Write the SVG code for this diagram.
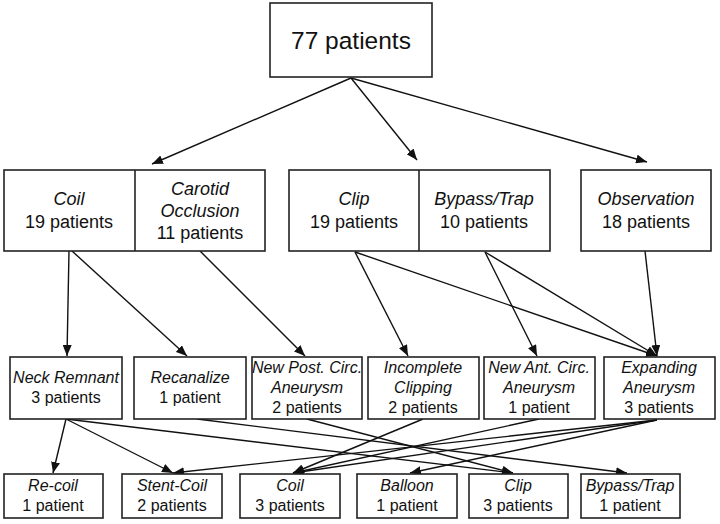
<svg xmlns="http://www.w3.org/2000/svg" width="720" height="524" viewBox="0 0 720 524">
<defs>
<marker id="ah" markerUnits="userSpaceOnUse" markerWidth="11" markerHeight="9" refX="11" refY="4.5" orient="auto">
<path d="M0,0 L11,4.5 L0,9 z" fill="#111"/>
</marker>
<style>
rect{fill:#fff;stroke:#222;stroke-width:1.6}
.dv{stroke:#222;stroke-width:1.6}
text{font-family:"Liberation Sans",Arial,sans-serif;fill:#111;text-anchor:middle}
.i{font-style:italic}
.f18{font-size:18px}
.f16{font-size:16px}
#connectors path{fill:none;stroke:#111;stroke-width:1.4;marker-end:url(#ah)}
</style>
</defs>
<rect x="0" y="0" width="720" height="524" style="fill:#fff;stroke:none"/>
<g id="connectors">
<path d="M351,78 L152,164"/>
<path d="M351,78 L417,160"/>
<path d="M351,78 L647,162"/>
<path d="M69,251 L67,356"/>
<path d="M72,251 L187,356"/>
<path d="M200,251 L305,356"/>
<path d="M355,252 L408,356"/>
<path d="M355,252 L657,356"/>
<path d="M485,252 L537,356"/>
<path d="M485,252 L657,356"/>
<path d="M645,251 L657,356"/>
<path d="M66,419 L53,473"/>
<path d="M66,419 L173,473"/>
<path d="M66,419 L513,473"/>
<path d="M197,419 L627,473"/>
<path d="M307,419 L513,473"/>
<path d="M423,419 L293,473"/>
<path d="M539,419 L293,473"/>
<path d="M657,420 L173,473"/>
<path d="M657,420 L293,473"/>
<path d="M657,420 L410,473"/>
</g>
<g id="n-total">
<rect x="270" y="3" width="162" height="74"/>
<text x="351" y="49" style="font-size:24.5px">77 patients</text>
</g>
<g id="n-coil-carotid">
<rect x="4" y="170" width="261" height="81"/>
<line class="dv" x1="135" y1="170" x2="135" y2="251"/>
<text class="f18 i" x="69" y="205">Coil</text>
<text class="f18" x="69" y="228">19 patients</text>
<text class="f18 i" x="200" y="195">Carotid</text>
<text class="f18 i" x="200" y="217">Occlusion</text>
<text class="f18" x="200" y="239">11 patients</text>
</g>
<g id="n-clip-bypass">
<rect x="289" y="170" width="261" height="81"/>
<line class="dv" x1="419" y1="170" x2="419" y2="251"/>
<text class="f18 i" x="354" y="205">Clip</text>
<text class="f18" x="354" y="228">19 patients</text>
<text class="f18 i" x="484" y="205">Bypass/Trap</text>
<text class="f18" x="484" y="228">10 patients</text>
</g>
<g id="n-observation">
<rect x="581" y="170" width="130" height="81"/>
<text class="f18 i" x="646" y="205">Observation</text>
<text class="f18" x="646" y="228">18 patients</text>
</g>
<g id="n-neck">
<rect x="10" y="357" width="112" height="62"/>
<text class="f16 i" x="66" y="383">Neck Remnant</text>
<text class="f16" x="66" y="403">3 patients</text>
</g>
<g id="n-recanalize">
<rect x="134" y="357" width="112" height="62"/>
<text class="f16 i" x="190" y="383">Recanalize</text>
<text class="f16" x="190" y="403">1 patient</text>
</g>
<g id="n-newpost">
<rect x="252" y="357" width="110" height="62"/>
<text class="f16 i" x="307" y="373">New Post. Circ.</text>
<text class="f16 i" x="307" y="393">Aneurysm</text>
<text class="f16" x="307" y="413">2 patients</text>
</g>
<g id="n-incomplete">
<rect x="368" y="357" width="111" height="62"/>
<text class="f16 i" x="423" y="373">Incomplete</text>
<text class="f16 i" x="423" y="393">Clipping</text>
<text class="f16" x="423" y="413">2 patients</text>
</g>
<g id="n-newant">
<rect x="484" y="357" width="111" height="62"/>
<text class="f16 i" x="539" y="373">New Ant. Circ.</text>
<text class="f16 i" x="539" y="393">Aneurysm</text>
<text class="f16" x="539" y="413">1 patient</text>
</g>
<g id="n-expanding">
<rect x="604" y="357" width="111" height="62"/>
<text class="f16 i" x="659" y="373">Expanding</text>
<text class="f16 i" x="659" y="393">Aneurysm</text>
<text class="f16" x="659" y="413">3 patients</text>
</g>
<g id="n-recoil">
<rect x="4" y="474" width="99" height="44"/>
<text class="f16 i" x="53" y="491">Re-coil</text>
<text class="f16" x="53" y="511">1 patient</text>
</g>
<g id="n-stentcoil">
<rect x="122" y="474" width="100" height="44"/>
<text class="f16 i" x="172" y="491">Stent-Coil</text>
<text class="f16" x="172" y="511">2 patients</text>
</g>
<g id="n-coil2">
<rect x="240" y="474" width="100" height="44"/>
<text class="f16 i" x="290" y="491">Coil</text>
<text class="f16" x="290" y="511">3 patients</text>
</g>
<g id="n-balloon">
<rect x="357" y="474" width="100" height="44"/>
<text class="f16 i" x="407" y="491">Balloon</text>
<text class="f16" x="407" y="511">1 patient</text>
</g>
<g id="n-clip2">
<rect x="469" y="474" width="99" height="44"/>
<text class="f16 i" x="518" y="491">Clip</text>
<text class="f16" x="518" y="511">3 patients</text>
</g>
<g id="n-bypass2">
<rect x="581" y="474" width="99" height="44"/>
<text class="f16 i" x="630" y="491">Bypass/Trap</text>
<text class="f16" x="630" y="511">1 patient</text>
</g>
</svg>
